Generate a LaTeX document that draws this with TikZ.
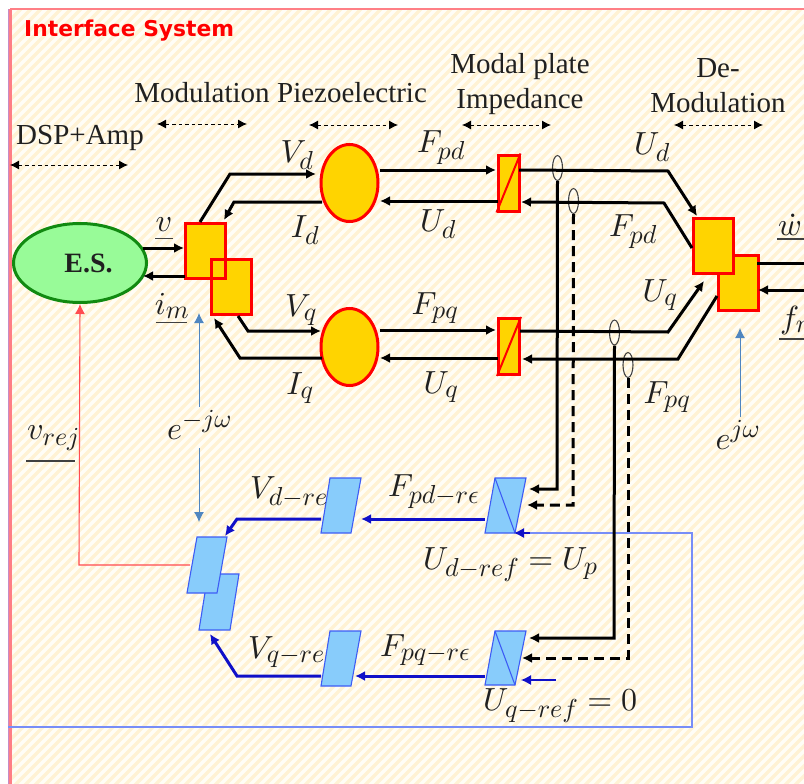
\documentclass[tikz,border=0pt]{standalone}
\usepackage{fontspec}
\setmainfont{Liberation Serif}
\newfontfamily\headfont{DejaVu Sans}
\usetikzlibrary{arrows.meta,shapes.geometric,calc}
\DeclareFontShape{OML}{cmm}{m}{it}{<-> cmmi10}{}
\DeclareFontShape{OMS}{cmsy}{m}{n}{<-> cmsy10}{}
\DeclareFontShape{OT1}{cmr}{m}{n}{<-> cmr10}{}
\DeclareMathSizes{32}{32}{26}{20}
\definecolor{cream}{HTML}{FFFDF6}
\definecolor{stripe}{HTML}{FFF2D4}
\definecolor{gold}{HTML}{FFD400}
\definecolor{framecol}{HTML}{FF7F86}
\definecolor{skyfill}{HTML}{88CCFB}
\definecolor{skyline}{HTML}{3D5CF5}
\definecolor{navy}{HTML}{1010C8}
\definecolor{steel}{HTML}{4F86C0}
\definecolor{lgreen}{HTML}{98FB98}
\definecolor{dgreen}{HTML}{118A11}
\definecolor{ink}{HTML}{202020}
\tikzset{
  x=1pt,y=-1pt,
  power/.style={line width=3pt,black,-{Latex[length=10pt,width=10pt]}},
  plainpow/.style={line width=3pt,black},
  dpower/.style={power,dash pattern=on 10pt off 6pt},
  bluepow/.style={line width=3pt,navy,-{Latex[length=10pt,width=10pt]}},
  thinblue/.style={line width=1.2pt,navy,-{Latex[length=10pt,width=10pt]}},
  spanarrow/.style={line width=1pt,black,dash pattern=on 3.5pt off 3pt,{Latex[length=9pt,width=9pt]}-{Latex[length=9pt,width=9pt]}},
  sigarrow/.style={line width=1pt,steel,-{Latex[length=10pt,width=10pt]}},
  redsig/.style={line width=1.1pt,framecol!60!red,-{Latex[length=10pt,width=10pt]}},
  lbl/.style={inner sep=0pt,text=ink,font=\fontsize{32}{34}\selectfont},
  captext/.style={inner sep=0pt,text=ink,align=center,font=\fontsize{29}{35}\selectfont},
  modbox/.style={draw=red,line width=3pt,fill=gold,rectangle,inner sep=0pt,minimum width=40pt,minimum height=55pt},
  impbox/.style={draw=red,line width=3pt,fill=gold,rectangle,inner sep=0pt,minimum width=21pt,minimum height=56pt},
  piezo/.style={draw=red,line width=3pt,fill=gold,ellipse,inner sep=0pt,minimum width=57pt,minimum height=77pt},
  tapring/.style={draw=black!75,line width=1.1pt,ellipse,inner sep=0pt,minimum width=10pt,minimum height=25pt},
  para/.style={draw=skyline,line width=1.1pt,fill=skyfill},
  underl/.style={line width=1.2pt,black!75},
}
\begin{document}
\begin{tikzpicture}
\useasboundingbox (0,0) rectangle (804,784);
% paper
\fill[white] (0,0) rectangle (804,784);
\begin{scope}
  \clip (10,9) rectangle (804,784);
  \fill[cream] (10,9) rectangle (804,784);
  \foreach \k in {0,10,...,1600} {
    \draw[stripe,line width=3.4pt] (\k,0) -- ++(-800,800);
  }
\end{scope}
\draw[framecol,line width=1.4pt] (804,9) -- (10,9);
\draw[framecol,line width=3pt] (10,9) -- (10,784);
\draw[violet!45,line width=1.2pt] (8.2,9) -- (8.2,784);

% frame of the reference path
\draw[skyline!70,line width=1.1pt] (8,727) -- (692,727) -- (692,533) -- (530,533);

% nodes
\node[ellipse,draw=dgreen,line width=3pt,fill=lgreen,inner sep=0pt,minimum width=133pt,minimum height=79pt] (es) at (80,263) {};
\node[inner sep=0pt,font=\fontsize{28}{30}\selectfont\bfseries,text=ink] (estext) at (88.5,263) {E.S.};

\node[modbox] (m1) at (205,250.5) {};
\node[modbox] (m2) at (231,287) {};
\draw[red,line width=3pt] ($(m1.north east)+(-1.5,1.5)$) |- ($(m1.south west)+(1.5,-1.5)$);

\node[piezo] (pz1) at (349.5,183) {};
\node[piezo] (pz2) at (349.5,347) {};

\node[impbox] (z1) at (508.5,183) {};
\draw[red,line width=2pt] (z1.south west) -- (z1.north east);
\node[impbox] (z2) at (509,346.5) {};
\draw[red,line width=2pt] (z2.south west) -- (z2.north east);

\node[modbox] (d2) at (738,282.5) {};
\node[modbox] (d1) at (713,245.5) {};

\node[tapring] (t1) at (557.5,168) {};
\node[tapring] (t2) at (573.5,201) {};
\node[tapring] (t3) at (614.5,332.5) {};
\node[tapring] (t4) at (628,365) {};

% parallelograms
\draw[para] (330,478) -- (361,478) -- (351,533) -- (321,533) -- cycle;
\draw[para] (495,478) -- (526,478) -- (515,533) -- (485,533) -- cycle;
\draw[skyline,line width=1.1pt] (495,478) -- (515,533);
\draw[para] (330,631) -- (361,631) -- (351,686) -- (321,686) -- cycle;
\draw[para] (495,631) -- (526,631) -- (515,685) -- (485,685) -- cycle;
\draw[skyline,line width=1.1pt] (495,631) -- (515,685);
\draw[para] (208,574) -- (239,574) -- (230,630) -- (199,630) -- cycle;
\draw[para] (197,537) -- (227,537) -- (217,593) -- (187,593) -- cycle;

% left block connectors
\draw[power] (143,248) -- (184,248);
\draw[power] (185,276) -- (143,276);
\draw[power] (200,222) -- (230,174) -- (316,174);
\draw[power] (322,202) -- (234,202) -- (224,220);
\draw[power] (238,316) -- (248,331) -- (321,331);
\draw[power] (322,358) -- (240,358) -- (214,318);

% middle connectors
\draw[power] (380,170) -- (496,170);
\draw[power] (498,201) -- (380,201);
\draw[power] (380,330) -- (496,330);
\draw[power] (498,358) -- (380,358);

% right connectors
\draw[power] (519,170) -- (668,171) -- (697,216);
\draw[power] (692,248) -- (664,203) -- (521,202);
\draw[power] (520,331) -- (668,332) -- (704,281);
\draw[power] (717,296) -- (678,359) -- (522,359);
\draw[plainpow] (757,263) -- (804,263);
\draw[power] (804,290) -- (758,290);

% measurement lines
\draw[power] (t1.south) -- (557,489) -- (529,489);
\draw[dpower] (t2.south) -- (573,505) -- (527,505);
\draw[power] (t3.south) -- (614,638) -- (529,638);
\draw[dpower] (t4.south) -- (628,658) -- (522,658);

% blue path
\draw[bluepow] (485,519) -- (361,519);
\draw[bluepow] (321,519) -- (237,519) -- (225,536);
\draw[bluepow] (485,676) -- (355,676);
\draw[bluepow] (321,676) -- (237,676) -- (210,634);
\draw[thinblue] (530,533) -- (514,533);
\draw[thinblue] (556,680) -- (521,680);

% thin signals
\draw[redsig] (190,565) -- (79,565) -- (es.south);
\draw[sigarrow] (199,407) -- (199,313);
\draw[sigarrow] (199,448) -- (199,522);
\draw[sigarrow] (740,417) -- (740,328);

% span arrows
\draw[spanarrow] (10,165) -- (128,165);
\draw[spanarrow] (157,124) -- (247,124);
\draw[spanarrow] (309,125) -- (398,125);
\draw[spanarrow] (462,125) -- (551,125);
\draw[spanarrow] (674,125) -- (763,125);

% captions
\node[anchor=west,inner sep=0pt,text=red,font=\headfont\bfseries\fontsize{21.8}{24}\selectfont] (title) at (24,31) {Interface System};
\node[captext] (c1) at (80,138) {DSP+Amp};
\node[captext] (c2) at (202,93) {Modulation};
\node[captext] (c3) at (352,93) {Piezoelectric};
\node[captext] (c4) at (520,84) {Modal plate\\Impedance};
\node[captext] (c5) at (718,86) {De-\\Modulation};

% signal labels
\node[lbl] (l01) at (164,225) {$v$};
\node[lbl] (l02) at (172,306) {$i_m$};
\node[lbl] (l03) at (297,155) {$V_d$};
\node[lbl] (l04) at (305,230) {$I_d$};
\node[lbl] (l05) at (301,310) {$V_q$};
\node[lbl] (l06) at (300,388) {$I_q$};
\node[lbl] (l07) at (441,148) {$F_{pd}$};
\node[lbl] (l08) at (438,224) {$U_d$};
\node[lbl] (l09) at (435,308) {$F_{pq}$};
\node[lbl] (l10) at (441,387) {$U_q$};
\node[lbl] (l11) at (652,147) {$U_d$};
\node[lbl] (l12) at (633,232) {$F_{pd}$};
\node[lbl] (l13) at (660,295) {$U_q$};
\node[lbl] (l14) at (667,397) {$F_{pq}$};
\node[lbl,anchor=west] (l15) at (778,225) {$\dot w$};
\node[lbl,anchor=west] (l16) at (780,320) {$f_r$};
\node[lbl,anchor=west] (l17) at (27,438) {$v_{rej}$};
\node[lbl,anchor=west] (l18) at (167,425) {$e^{-j\omega}$};
\node[lbl] (l19) at (738,435) {$e^{j\omega}$};
\node[lbl,anchor=west] (l20) at (250,492) {$V_{d-re}$};
\node[lbl,anchor=west] (l21) at (388,492) {$F_{pd-r\epsilon}$};
\node[lbl,anchor=west] (l22) at (248,652) {$V_{q-re}$};
\node[lbl,anchor=west] (l23) at (380,650) {$F_{pq-r\epsilon}$};
\node[lbl,anchor=west] (l24) at (423,565) {$U_{d-ref}=U_p$};
\node[lbl,anchor=west] (l25) at (483,706) {$U_{q-ref}=0$};

% underlines
\draw[underl] (155,238.5) -- (173,238.5);
\draw[underl] (156,322.5) -- (187,322.5);
\draw[underl] (26,461) -- (75,461);
\draw[underl] (777,239) -- (804,239);
\draw[underl] (779,339) -- (804,339);
\end{tikzpicture}
\end{document}
